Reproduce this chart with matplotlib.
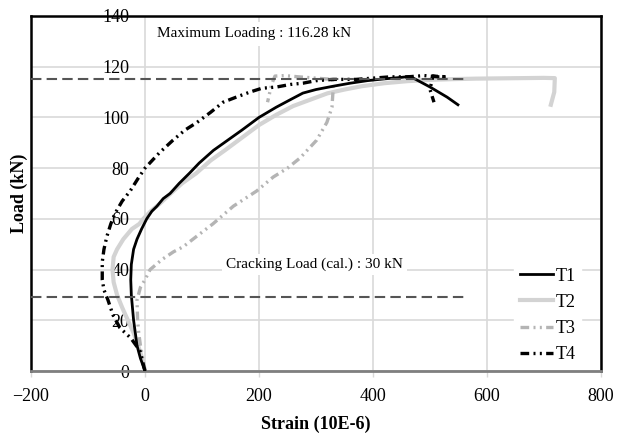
import matplotlib
matplotlib.use("Agg")
import matplotlib.pyplot as plt

plt.rcParams['font.family'] = ['Liberation Serif', 'DejaVu Serif']

# ---- data ----
t1_x = [0, -8, -14, -17, -20, -22, -24, -25, -24, -20, -14, -6, 3, 12, 21, 32, 44, 60, 78, 95,
        120, 145, 170, 200, 230, 255, 277, 300, 330, 360, 390, 420, 450, 465, 500, 530, 549]
t1_y = [0, 5, 10, 15, 20, 25, 30, 36, 42, 48, 52, 56, 60, 63, 65, 68, 70, 74, 78, 82,
        87, 91, 95, 100, 104, 107, 109.6, 111, 112.3, 113.5, 114.5, 115.2, 115.8, 116.2, 112, 108, 105]

t2_x = [0, -5, -12, -20, -30, -40, -49, -55, -57, -55, -49, -38, -23, -10, -3, 10, 26, 45, 65, 90,
        115, 140, 170, 200, 230, 260, 290, 320, 350, 380, 420, 460, 500, 540, 580, 620, 660, 700,
        719, 718, 712]
t2_y = [0, 5, 10, 15, 20, 25, 30, 35, 40, 45, 48, 52, 56, 58, 60, 63, 66, 70, 74, 78,
        83, 87, 92, 97, 101, 104.5, 107, 109.5, 111, 112.3, 113.5, 114.3, 114.8, 115.1, 115.3, 115.4,
        115.5, 115.6, 115.5, 110, 105]

t3_x = [0, -4, -8, -11, -13, -14, -8, 0, 9, 30, 50, 67, 90, 119, 155, 196, 225, 250, 272, 301,
        319, 328, 330, 329, 300, 270, 245, 228, 222, 218, 215]
t3_y = [0, 5, 10, 15, 20, 28, 33, 36, 40, 44, 47, 49, 53, 58, 65, 71, 76.5, 80, 84, 91,
        98, 104, 111, 115, 115.5, 116, 116.5, 116.3, 113, 109, 106]

t4_x = [0, -9, -25, -44, -56, -65, -72, -75, -75, -72, -67, -60, -53, -40, -26, -12, 0, 25, 49, 70,
        91, 115, 137, 160, 184, 205, 231, 255, 277, 300, 330, 370, 400, 430, 460, 490, 515, 530,
        505, 500, 507]
t4_y = [0, 8, 13, 17, 22, 28, 32, 36, 43, 48, 53, 58, 62, 67, 71, 76, 80, 86, 91, 95,
        98, 102, 106, 108, 110, 111.5, 112, 113, 113.5, 114.5, 115, 115, 115.5, 116, 116, 116.5, 116, 116,
        116.3, 111, 106]

max_load = 115
crack_load = 29
ref_x_range = [-200, 560]

x_ticks = [-200, 0, 200, 400, 600, 800]
y_ticks = [0, 20, 40, 60, 80, 100, 120, 140]

# ---- figure ----
fig = plt.figure(figsize=(6.24, 4.34), dpi=100)
ax = fig.add_axes([31/624, 63/434, 570/624, 355/434])
ax.set_xlim(-200, 800)
ax.set_ylim(0, 140)
ax.set_xticks(x_ticks)
ax.set_yticks(y_ticks)
ax.grid(True, color='#d9d9d9', lw=1.2, zorder=0)
ax.set_axisbelow(True)

pattern = (0, (2.6, 1.3, 0.6, 1.3, 0.6, 1.3))
ax.plot(t2_x, t2_y, color='#d3d3d3', lw=3, label='T2', zorder=3)
ax.plot(t1_x, t1_y, color='black', lw=2, label='T1', zorder=4)
ax.plot(t3_x, t3_y, color='#b4b4b4', lw=2.4, ls=pattern, label='T3', zorder=3)
ax.plot(t4_x, t4_y, color='black', lw=2.4, ls=pattern, label='T4', zorder=5)

ax.plot(ref_x_range, [max_load, max_load], color='#555555', lw=1.5, ls=(0, (5, 2.5)), zorder=6)
ax.plot(ref_x_range, [crack_load, crack_load], color='#555555', lw=1.5, ls=(0, (5, 2.5)), zorder=6)

ax.text(192, 133, 'Maximum Loading : 116.28 kN', fontsize=11, ha='center', va='center',
        bbox=dict(facecolor='white', edgecolor='none', pad=4), zorder=2)
ax.text(298, 42, 'Cracking Load (cal.) : 30 kN', fontsize=11, ha='center', va='center',
        bbox=dict(facecolor='white', edgecolor='none', pad=3), zorder=2)

for s in ['left', 'top', 'right']:
    ax.spines[s].set_color('black')
    ax.spines[s].set_linewidth(1.8)
ax.spines['bottom'].set_color('#7f7f7f')
ax.spines['bottom'].set_linewidth(2)

ax.tick_params(axis='y', length=0, pad=-71, labelsize=13)
ax.tick_params(axis='x', length=4, width=1, color='#d9d9d9', labelsize=13, pad=8)

ax.set_xlabel('Strain (10E-6)', fontsize=13, fontweight='bold', labelpad=8)
ax.set_ylabel('Load (kN)', fontsize=13, fontweight='bold', labelpad=2)

handles, labels = ax.get_legend_handles_labels()
order = [labels.index(k) for k in ['T1', 'T2', 'T3', 'T4']]
leg = ax.legend([handles[i] for i in order], [labels[i] for i in order],
                loc='lower right', bbox_to_anchor=(0.97, 0.0), fontsize=13, frameon=True,
                facecolor='white', edgecolor='white', framealpha=1, handlelength=1.85,
                handletextpad=0.15, labelspacing=0.5, borderaxespad=0.15, borderpad=0.3)
leg.set_zorder(7)

fig.savefig('out.png', dpi=100)
